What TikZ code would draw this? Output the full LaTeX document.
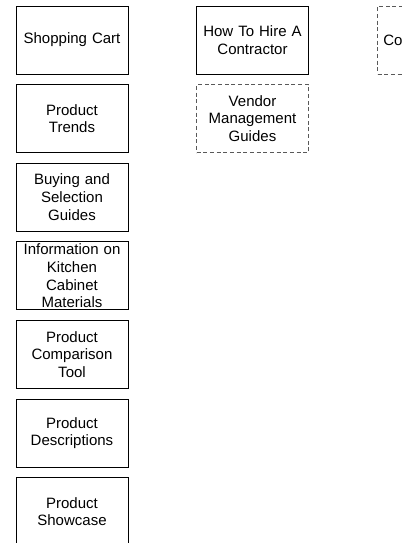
\documentclass[tikz,border=0pt]{standalone}
\usepackage{fontspec}
\setmainfont{Liberation Sans}
\usetikzlibrary{positioning}
\begin{document}
\begin{tikzpicture}[x=0.75pt,y=-0.75pt,node distance=7.2pt,
    box/.style={draw,line width=0.75pt,minimum width=84pt,minimum height=51pt,
        text width=84pt,inner sep=0pt,align=center,
        font=\fontsize{11.25pt}{13.3pt}\selectfont},
    planned/.style={box,draw=black!65,dash pattern=on 3pt off 2pt}]
    \useasboundingbox (0,0) rectangle (402,543);
    \clip (0,0) rectangle (402,543);
    % first column
    \node[box] (shop) at (72,40) {Shopping Cart};
    \node[box,below=of shop] (trends) {Product\\Trends};
    \node[box,below=of trends] (guides) {Buying and\\Selection\\Guides};
    \node[box,below=of guides] (materials) {Information on\\Kitchen\\Cabinet\\Materials};
    \node[box,below=of materials] (compare) {Product\\Comparison\\Tool};
    \node[box,below=of compare] (descr) {Product\\Descriptions};
    \node[box,below=of descr] (showcase) {Product\\Showcase};
    % second column
    \node[box] (hire) at (252.5,40) {How To Hire A\\Contractor};
    \node[planned,below=of hire] (vendor) {Vendor\\Management\\Guides};
    % third column, cut off at the edge
    \node[planned] (contr) at (433.5,40) {};
    \node[anchor=west,inner sep=0pt,font=\fontsize{11.25pt}{13.3pt}\selectfont]
        (contrtext) at (383,40) {Co};
\end{tikzpicture}
\end{document}
